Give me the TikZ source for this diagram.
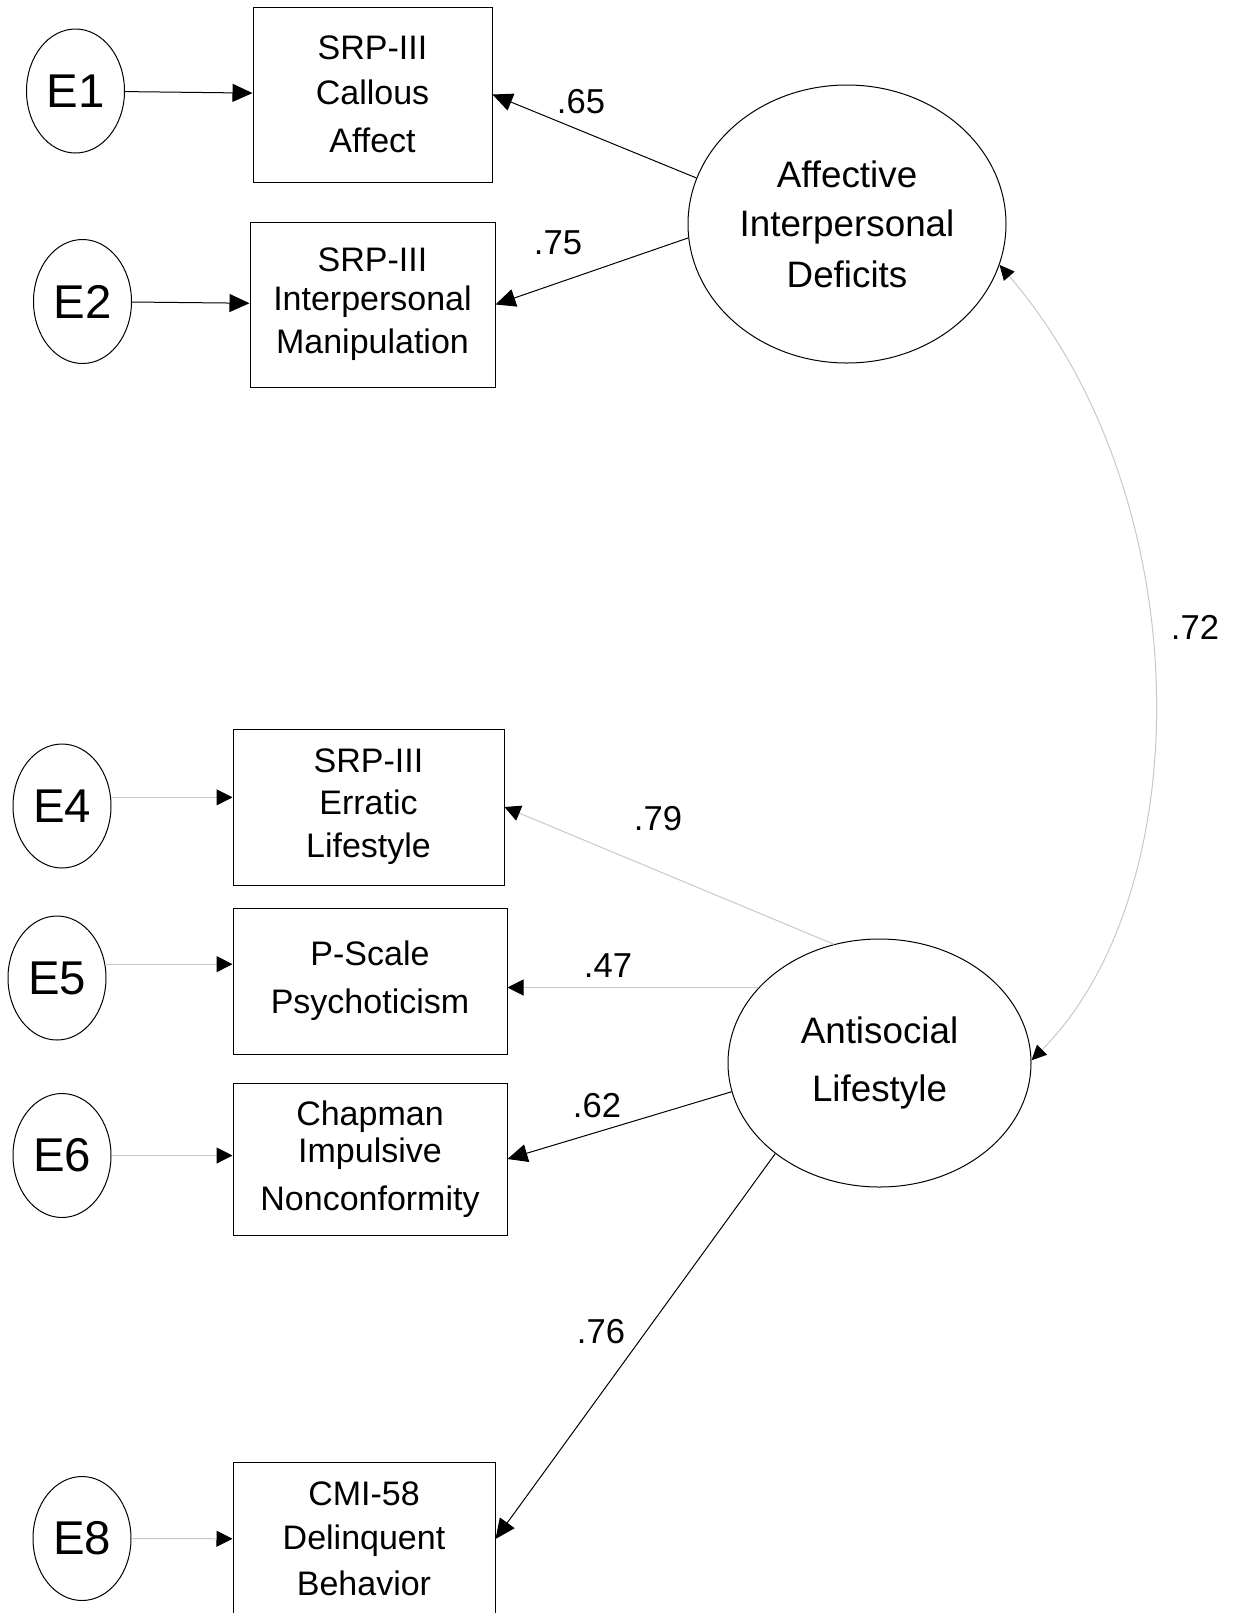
\documentclass[tikz,border=0pt]{standalone}
\usepackage{fontspec}
\setmainfont{Liberation Sans}
\usetikzlibrary{shapes.geometric,arrows.meta}
\definecolor{lightline}{RGB}{200,200,200}
\begin{document}
\begin{tikzpicture}[x=0.5pt, y=-0.5pt, line width=0.5pt,
  err/.style={ellipse, draw, inner sep=0pt, minimum width=49pt, minimum height=62pt,
    font=\fontsize{23.7}{28}\selectfont},
  lat/.style={ellipse, draw, align=center, inner sep=0pt,
    font=\fontsize{18.4}{25}\selectfont},
  obs/.style={rectangle, draw, align=center, inner sep=0pt,
    font=\fontsize{17}{22}\selectfont},
  coef/.style={inner sep=0pt, font=\fontsize{17.3}{20}\selectfont},
  load/.style={-{Triangle[length=10pt,width=9pt]}},
  weak/.style={draw=lightline, -{Triangle[length=8pt,width=8pt,color=black]}},
  corr/.style={draw=lightline,
    {Triangle[length=7.5pt,width=7pt,color=black]}-{Triangle[length=7.5pt,width=7pt,color=black]}}]
  \useasboundingbox (0,0) rectangle (1241,1613);
  % latent factors
  \node [lat, minimum width=159pt, minimum height=139pt] (affect) at (847,224)
    {Affective\\[-0.5pt]Interpersonal\\[0.5pt]Deficits};
  \node [lat, minimum width=151.5pt, minimum height=124pt] (antisoc) at (879.5,1063)
    {Antisocial\\[4pt]Lifestyle};
  % indicators
  \node [obs, minimum width=119.5pt, minimum height=87.5pt] (callous) at (372.5,94.5)
    {SRP-III\\[0.5pt]Callous\\[2pt]Affect};
  \node [obs, minimum width=122.5pt, minimum height=82.5pt] (manip) at (372.5,304.5)
    {SRP-III\\[-2.5pt]Interpersonal\\[-0.5pt]Manipulation};
  \node [obs, minimum width=135.5pt, minimum height=78pt] (erratic) at (368.5,807)
    {SRP-III\\[-1pt]Erratic\\[-0.5pt]Lifestyle};
  \node [obs, minimum width=137pt, minimum height=73pt] (pscale) at (370,981)
    {P-Scale\\[2pt]Psychoticism};
  \node [obs, minimum width=137pt, minimum height=76pt] (chapman) at (370,1159)
    {Chapman\\[-3.5pt]Impulsive\\[2pt]Nonconformity};
  \node [obs, minimum width=131pt, minimum height=77pt] (cmi) at (364,1539)
    {CMI-58\\Delinquent\\[1pt]Behavior};
  % error terms
  \node [err] (e1) at (75.5,91)    {E1};
  \node [err] (e2) at (82.5,301.5) {E2};
  \node [err] (e4) at (62,806)     {E4};
  \node [err] (e5) at (57,978)     {E5};
  \node [err] (e6) at (62,1155.5)  {E6};
  \node [err] (e8) at (82,1538.5)  {E8};
  \draw [load] (e1) -- (callous);
  \draw [load] (e2) -- (manip);
  \draw [weak] (e4.10) -- (e4.10 -| erratic.west);
  \draw [weak] (e5.16) -- (e5.16 -| pscale.west);
  \draw [weak] (e6.east) -- (e6.east -| chapman.west);
  \draw [weak] (e8) -- (cmi);
  % loadings
  \draw [load] (affect.163) -- (callous.east);
  \draw [load] (affect.185) -- (manip.east);
  \draw [weak] (antisoc.111) -- (erratic.east);
  \draw [weak] (antisoc.148) -- (antisoc.148 -| pscale.east);
  \draw [load] (antisoc.191) -- (chapman.east);
  \draw [load] (antisoc.221) -- (cmi.east);
  \node [coef] (l65) at (581,102)  {.65};
  \node [coef] (l75) at (558,243)  {.75};
  \node [coef] (l79) at (658,819)  {.79};
  \node [coef] (l47) at (608,966)  {.47};
  \node [coef] (l62) at (597,1106) {.62};
  \node [coef] (l76) at (601,1332) {.76};
  % factor correlation
  \draw [corr] (affect.-15) .. controls (1200,498) and (1200,891) .. (antisoc.1);
  \node [coef] (l72) at (1195,627) {.72};
\end{tikzpicture}
\end{document}
